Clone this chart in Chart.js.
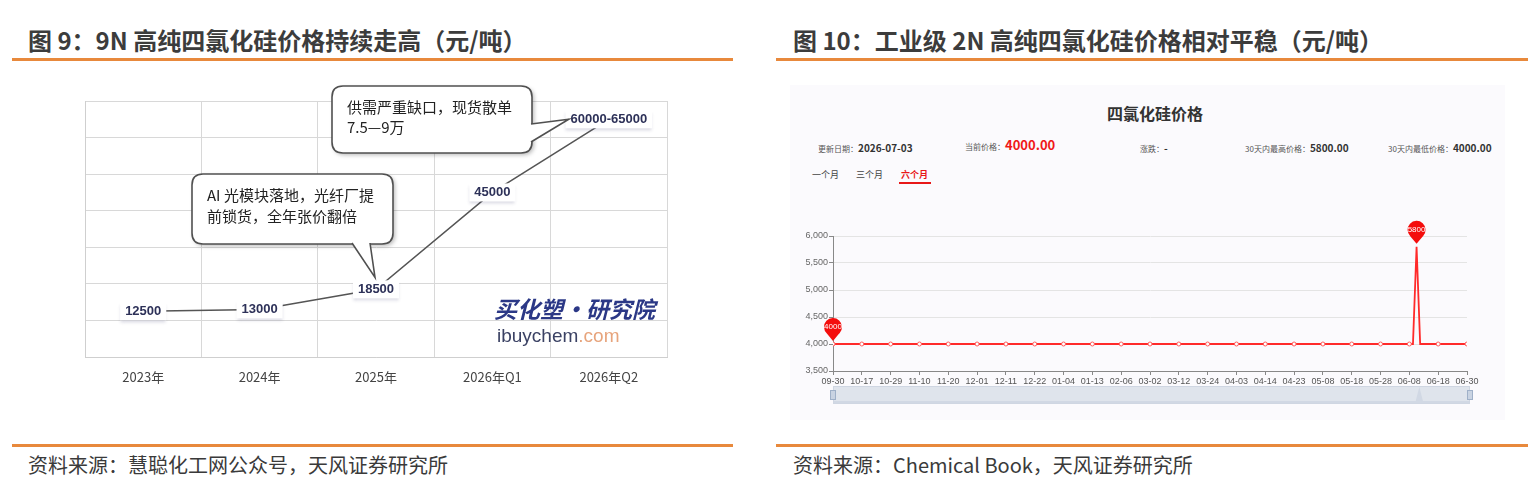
<!DOCTYPE html>
<html><head><meta charset="utf-8">
<script src="https://cdn.jsdelivr.net/npm/chart.js@4.4.1/dist/chart.umd.min.js"></script>
<style>
html,body{margin:0;padding:0;background:#fff;width:1530px;height:484px;overflow:hidden;font-family:"Noto Sans CJK SC","Noto Sans",sans-serif;}
.abs{position:absolute;white-space:nowrap;}
.title{font-size:24px;font-weight:bold;color:#3c3c3c;line-height:28px;}
.rule{position:absolute;height:3px;background:#e8893c;}
.src{font-size:20px;color:#3a3a3a;line-height:24px;}
.lbl{font-size:8px;color:#555;line-height:12px;}
.val{font-size:10px;color:#333;font-weight:bold;line-height:12px;}
</style></head><body>
<div class="abs title" style="left:28px;top:26px;">图 9：9N 高纯四氯化硅价格持续走高（元/吨）</div>
<div class="abs title" style="left:793px;top:26px;">图 10：工业级 2N 高纯四氯化硅价格相对平稳（元/吨）</div>
<div class="rule" style="left:12px;width:721px;top:58px;"></div>
<div class="rule" style="left:776px;width:752px;top:58px;"></div>
<div class="rule" style="left:12px;width:721px;top:444px;"></div>
<div class="rule" style="left:776px;width:752px;top:444px;"></div>
<div class="abs src" style="left:28px;top:453px;">资料来源：慧聪化工网公众号，天风证券研究所</div>
<div class="abs src" style="left:793px;top:453px;">资料来源：Chemical Book，天风证券研究所</div>

<div class="abs" style="left:30px;top:80px;width:660px;height:320px;"><canvas id="c1" width="660" height="320"></canvas></div>

<div class="abs" style="left:790px;top:85px;width:715px;height:335px;background:#fbfafd;"></div>
<div class="abs" style="left:1155px;top:103px;transform:translateX(-50%);font-size:16px;font-weight:bold;color:#333;line-height:20px;">四氯化硅价格</div>
<div class="abs" style="left:818px;top:133px;"><span class="lbl">更新日期：</span><span class="val">2026-07-03</span></div>
<div class="abs" style="left:965px;top:131px;"><span class="lbl">当前价格：</span><span style="font-size:13px;font-weight:bold;color:#f01818;">4000.00</span></div>
<div class="abs" style="left:1140px;top:133px;"><span class="lbl">涨跌：</span><span class="val">-</span></div>
<div class="abs" style="left:1245px;top:133px;"><span class="lbl">30天内最高价格：</span><span class="val">5800.00</span></div>
<div class="abs" style="left:1388px;top:133px;"><span class="lbl">30天内最低价格：</span><span class="val">4000.00</span></div>
<div class="abs" style="left:812px;top:169px;font-size:9px;color:#444;line-height:12px;">一个月</div>
<div class="abs" style="left:856px;top:169px;font-size:9px;color:#444;line-height:12px;">三个月</div>
<div class="abs" style="left:901px;top:169px;font-size:9px;color:#e81818;font-weight:bold;line-height:12px;">六个月</div>
<div class="abs" style="left:899px;top:182px;width:32px;height:2px;background:#e81818;"></div>
<div class="abs" style="left:790px;top:206px;width:700px;height:214px;"><canvas id="c2" width="700" height="214"></canvas></div>

<script>
// ---------- Figure 9 data ----------
const years = ['2023年', '2024年', '2025年', '2026年Q1', '2026年Q2'];
const price9N = [12500, 13000, 18500, 45000, 65000];
const price9NText = ['12500', '13000', '18500', '45000', '60000-65000'];
const note1 = ['AI 光模块落地，光纤厂提', '前锁货，全年张价翻倍'];
const note2 = ['供需严重缺口，现货散单', '7.5—9万'];
const watermark1 = '买化塑·研究院';

// ---------- Figure 10 data ----------
const tickDates = ['09-30','10-17','10-29','11-10','11-20','12-01','12-11','12-22','01-04','01-13','02-06','03-02','03-12','03-24','04-03','04-14','04-23','05-08','05-18','05-28','06-08','06-18','06-30'];
const dayIndex = [0,8,16,24,32,40,48,56,64,72,80,88,96,104,112,120,128,136,144,152,160,161,162,163,168,176];
const price2N = [4000,4000,4000,4000,4000,4000,4000,4000,4000,4000,4000,4000,4000,4000,4000,4000,4000,4000,4000,4000,4000,4000,5800,4000,4000,4000];
const yTicks2N = [3500, 6000, 500];

const CJK = '"Noto Sans CJK SC","Noto Sans",sans-serif';

function bubble(ctx, x, y, w, h, r, tail) {
  ctx.save();
  ctx.shadowColor = 'rgba(0,0,0,0.28)';
  ctx.shadowBlur = 4; ctx.shadowOffsetX = 2; ctx.shadowOffsetY = 2;
  ctx.beginPath();
  ctx.moveTo(x + r, y);
  ctx.lineTo(x + w - r, y); ctx.quadraticCurveTo(x + w, y, x + w, y + r);
  ctx.lineTo(x + w, y + h - r); ctx.quadraticCurveTo(x + w, y + h, x + w - r, y + h);
  ctx.lineTo(x + r, y + h); ctx.quadraticCurveTo(x, y + h, x, y + h - r);
  ctx.lineTo(x, y + r); ctx.quadraticCurveTo(x, y, x + r, y);
  ctx.closePath();
  ctx.fillStyle = '#fff'; ctx.fill();
  ctx.shadowColor = 'transparent';
  ctx.strokeStyle = '#505050'; ctx.lineWidth = 1.6; ctx.stroke();
  const [a, b, t] = tail;
  ctx.beginPath(); ctx.moveTo(a[0], a[1]); ctx.lineTo(t[0], t[1]); ctx.lineTo(b[0], b[1]); ctx.closePath();
  ctx.fillStyle = '#fff'; ctx.fill();
  ctx.beginPath(); ctx.moveTo(a[0], a[1]); ctx.lineTo(t[0], t[1]); ctx.lineTo(b[0], b[1]);
  ctx.stroke();
  ctx.restore();
}

const fig9Plugin = {
  id: 'fig9',
  afterDatasetsDraw(chart) {
    const ctx = chart.ctx;
    const meta = chart.getDatasetMeta(0);
    ctx.save();
    ctx.font = 'bold 13px "Liberation Sans", Arial, sans-serif';
    ctx.textAlign = 'center'; ctx.textBaseline = 'middle';
    meta.data.forEach((pt, i) => {
      const txt = price9NText[i];
      const w = ctx.measureText(txt).width + 10;
      ctx.save();
      ctx.shadowColor = 'rgba(60,60,110,0.18)'; ctx.shadowBlur = 3; ctx.shadowOffsetY = 3;
      ctx.fillStyle = '#fff';
      ctx.fillRect(pt.x - w / 2, pt.y - 9, w, 18);
      ctx.restore();
      ctx.fillStyle = '#2d3158';
      ctx.fillText(txt, pt.x, pt.y);
    });
    ctx.restore();
    const p2 = meta.data[2], p4 = meta.data[4];
    bubble(ctx, 162, 94, 201, 70, 11, [[322, 163], [340, 163], [p2.x - 1, p2.y - 12]]);
    bubble(ctx, 302, 6, 200, 67, 11, [[501, 44], [501, 62], [p4.x - 40, p4.y]]);
    ctx.save();
    ctx.fillStyle = '#222'; ctx.font = '15px ' + CJK; ctx.textBaseline = 'middle'; ctx.textAlign = 'left';
    ctx.fillText(note1[0], 177, 115); ctx.fillText(note1[1], 177, 136);
    ctx.fillText(note2[0], 317, 27); ctx.fillText(note2[1], 317, 47);
    ctx.font = 'italic bold 23px ' + CJK; ctx.fillStyle = '#2b3886';
    ctx.fillText(watermark1, 464, 229);
    ctx.font = '19px "Liberation Sans", Arial, sans-serif'; ctx.fillStyle = '#3b4264';
    ctx.fillText('ibuychem', 467, 257);
    const w = ctx.measureText('ibuychem').width;
    ctx.fillStyle = '#e7a47c'; ctx.fillText('.com', 467 + w, 257);
    ctx.restore();
  }
};

new Chart(document.getElementById('c1'), {
  type: 'line',
  data: { labels: years, datasets: [{ data: price9N, borderColor: '#555', borderWidth: 1.5, pointRadius: 0, tension: 0 }] },
  options: {
    responsive: false, animation: false, events: [],
    layout: { padding: { left: 0, right: 23, top: 21, bottom: 0 } },
    plugins: { legend: { display: false }, tooltip: { enabled: false } },
    scales: {
      x: {
        offset: true,
        grid: { offset: true, color: '#d8d8d8', drawTicks: false },
        border: { color: '#cfcfcf' },
        ticks: { padding: 12, color: '#444', font: { size: 13, family: CJK } },
        afterFit(s) { s.height = 43; }
      },
      y: {
        min: 0, max: 70000,
        ticks: { display: false, stepSize: 10000 },
        grid: { color: '#d8d8d8', drawTicks: false },
        border: { color: '#cfcfcf' },
        afterFit(s) { s.width = 55; }
      }
    }
  },
  plugins: [fig9Plugin]
});

function pin(ctx, x, y, text) {
  const r = 9, cy = y - 17;
  ctx.save();
  ctx.beginPath();
  const a = 0.75;
  ctx.arc(x, cy, r, Math.PI / 2 + a, Math.PI / 2 - a + Math.PI * 2);
  ctx.lineTo(x, y - 3);
  ctx.closePath();
  ctx.fillStyle = '#f40d0d'; ctx.fill();
  ctx.fillStyle = '#fff'; ctx.font = '8px "Liberation Sans", Arial, sans-serif';
  ctx.textAlign = 'center'; ctx.textBaseline = 'middle';
  ctx.fillText(text, x, cy);
  ctx.restore();
}

const fig10Plugin = {
  id: 'fig10',
  afterDatasetsDraw(chart) {
    const ctx = chart.ctx;
    const meta = chart.getDatasetMeta(0);
    const maxV = Math.max(...price2N);
    const iMax = price2N.indexOf(maxV);
    pin(ctx, meta.data[0].x, meta.data[0].y, String(price2N[0]));
    pin(ctx, meta.data[iMax].x, meta.data[iMax].y, String(maxV));
    const ca = chart.chartArea, xs = chart.scales.x;
    const top = 180, h = 18, left = ca.left, right = ca.right + 3;
    ctx.save();
    ctx.fillStyle = '#dfe4ec';
    ctx.fillRect(left, top, right - left, h);
    const minV = Math.min(...price2N);
    ctx.beginPath();
    ctx.moveTo(left, top + h);
    dayIndex.forEach((d, i) => {
      const px = left + (xs.getPixelForValue(d) - ca.left) * (right - left) / (ca.right - ca.left);
      const py = top + h - 3 - (price2N[i] - minV) / (maxV - minV) * (h - 4);
      ctx.lineTo(px, py);
    });
    ctx.lineTo(right, top + h);
    ctx.closePath();
    ctx.fillStyle = '#d1d8e4'; ctx.fill();
    ctx.strokeStyle = '#cfd6e2'; ctx.lineWidth = 1; ctx.strokeRect(left + 0.5, top + 0.5, right - left - 1, h - 1);
    [left, right].forEach(hx => {
      ctx.fillStyle = '#c9d3e2'; ctx.strokeStyle = '#9fb0c8';
      ctx.fillRect(hx - 3, top + 4, 6, 10); ctx.strokeRect(hx - 3 + 0.5, top + 4.5, 5, 9);
    });
    ctx.restore();
  }
};

new Chart(document.getElementById('c2'), {
  type: 'line',
  data: {
    datasets: [{
      data: dayIndex.map((d, i) => ({ x: d, y: price2N[i] })),
      borderColor: '#ff2a2a', borderWidth: 1.8, tension: 0,
      pointRadius: c => (c.raw && c.raw.x % 8 === 0 ? 2 : 0),
      pointBackgroundColor: '#fff', pointBorderColor: '#ff5a5a', pointBorderWidth: 1
    }]
  },
  options: {
    responsive: false, animation: false, events: [],
    layout: { padding: { left: 0, right: 23, top: 30, bottom: 0 } },
    plugins: { legend: { display: false }, tooltip: { enabled: false } },
    scales: {
      x: {
        type: 'linear', min: 0, max: 176,
        grid: { drawOnChartArea: false, tickLength: 4, tickColor: '#888' },
        border: { color: '#888' },
        ticks: {
          stepSize: 8, autoSkip: false, maxRotation: 0, padding: 1,
          color: '#555', font: { size: 9, family: '"Liberation Sans", Arial, sans-serif' },
          callback: v => (v % 8 === 0 ? tickDates[v / 8] : '')
        },
        afterFit(s) { s.height = 49; }
      },
      y: {
        min: yTicks2N[0], max: yTicks2N[1],
        grid: { color: '#e4e4e4', tickLength: 4, tickColor: '#888' },
        border: { color: '#888' },
        ticks: {
          stepSize: yTicks2N[2], padding: 1, color: '#666',
          font: { size: 9, family: '"Liberation Sans", Arial, sans-serif' },
          callback: v => v.toLocaleString('en-US')
        },
        afterFit(s) { s.width = 43; }
      }
    }
  },
  plugins: [fig10Plugin]
});
</script>
</body></html>
